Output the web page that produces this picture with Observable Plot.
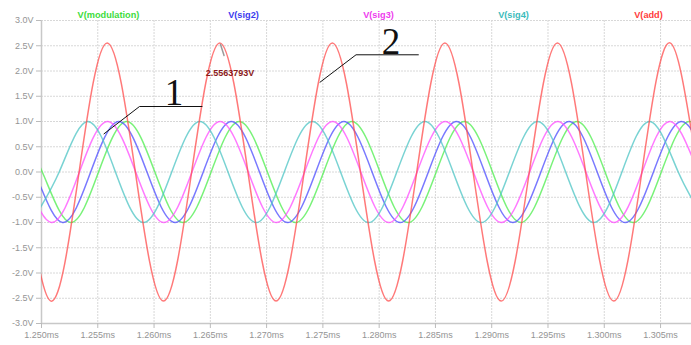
<!DOCTYPE html>
<html><head><meta charset="utf-8">
<script src="https://cdn.jsdelivr.net/npm/d3@7"></script>
<script src="https://cdn.jsdelivr.net/npm/@observablehq/plot@0.6"></script>
<style>
html,body{margin:0;padding:0;background:#fff;overflow:hidden;}
#wrap{position:relative;width:691px;height:345px;}
#legend{position:absolute;left:41px;top:9px;display:grid;grid-template-columns:repeat(5,135px);font:bold 9.2px "Liberation Sans",Arial,sans-serif;line-height:12px;}
#legend span{text-align:center;}
</style></head><body>
<div id="wrap"><div id="chart"></div><div id="legend"></div></div>
<script>
// Series names and colours (legend order)
const seriesNames = ["V(modulation)", "V(sig2)", "V(sig3)", "V(sig4)", "V(add)"];
const legendColors = ["#3ddc3d", "#3c3cee", "#ee3cee", "#3cbcbc", "#ff3c3c"];
const lineColors = ["#4cee4c", "#4c4cff", "#ff4cff", "#4cc4c4", "#ff4c4c"];

// Values: peaks, zero crossings and troughs (time in ms, volts)
const modulationT = [1.24757,1.25007,1.25257,1.25507,1.25757,1.26007,1.26257,1.26507,1.26757,1.27007,1.27257,1.27507,1.27757,1.28007,1.28257,1.28507,1.28757,1.29007,1.29257,1.29507,1.29757,1.30007,1.30257,1.30507,1.30757,1.31007];
const modulationV = [1,0,-1,0,1,0,-1,0,1,0,-1,0,1,0,-1,0,1,0,-1,0,1,0,-1,0,1,0];

const sig2T = [1.24687,1.24937,1.25187,1.25437,1.25687,1.25937,1.26187,1.26437,1.26687,1.26937,1.27187,1.27437,1.27687,1.27937,1.28187,1.28437,1.28687,1.28937,1.29187,1.29437,1.29687,1.29937,1.30187,1.30437,1.30687,1.30937];
const sig2V = [1,0,-1,0,1,0,-1,0,1,0,-1,0,1,0,-1,0,1,0,-1,0,1,0,-1,0,1,0];

const sig3T = [1.24587,1.24837,1.25087,1.25337,1.25587,1.25837,1.26087,1.26337,1.26587,1.26837,1.27087,1.27337,1.27587,1.27837,1.28087,1.28337,1.28587,1.28837,1.29087,1.29337,1.29587,1.29837,1.30087,1.30337,1.30587,1.30837,1.31087];
const sig3V = [1,0,-1,0,1,0,-1,0,1,0,-1,0,1,0,-1,0,1,0,-1,0,1,0,-1,0,1,0,-1];

const sig4T = [1.24907,1.25157,1.25407,1.25657,1.25907,1.26157,1.26407,1.26657,1.26907,1.27157,1.27407,1.27657,1.27907,1.28157,1.28407,1.28657,1.28907,1.29157,1.29407,1.29657,1.29907,1.30157,1.30407,1.30657,1.30907];
const sig4V = [-1,0,1,0,-1,0,1,0,-1,0,1,0,-1,0,1,0,-1,0,1,0,-1,0,1,0,-1];

const addT = [1.24584,1.24834,1.25084,1.25334,1.25584,1.25834,1.26084,1.26334,1.26584,1.26834,1.27084,1.27334,1.27584,1.27834,1.28084,1.28334,1.28584,1.28834,1.29084,1.29334,1.29584,1.29834,1.30084,1.30334,1.30584,1.30834,1.31084];
const addV = [2.5564,0,-2.5564,0,2.5564,0,-2.5564,0,2.5564,0,-2.5564,0,2.5564,0,-2.5564,0,2.5564,0,-2.5564,0,2.5564,0,-2.5564,0,2.5564,0,-2.5564];

// Axis ticks
const xTicks = [1.250,1.255,1.260,1.265,1.270,1.275,1.280,1.285,1.290,1.295,1.300,1.305];
const yTicks = [-3,-2.5,-2,-1.5,-1,-0.5,0,0.5,1,1.5,2,2.5,3];

// Annotations (data coordinates)
const cursorLabel = "2.5563793V";
const cursorLabelPos = [{t: 1.26675, v: 1.96}];
const cursorMark = [{t: 1.265906, v: 2.525}, {t: 1.266217, v: 2.307}];
const leader1 = [{t: 1.255554, v: 0.756}, {t: 1.258708, v: 1.297}, {t: 1.264262, v: 1.297}];
const label1 = [{t: 1.261774, v: 1.317, s: "1"}];
const leader2 = [{t: 1.274747, v: 1.778}, {t: 1.277946, v: 2.321}, {t: 1.283482, v: 2.321}];
const label2 = [{t: 1.281056, v: 2.345, s: "2"}];

const seriesT = [modulationT, sig2T, sig3T, sig4T, addT];
const seriesV = [modulationV, sig2V, sig3V, sig4V, addV];
const tables = seriesT.map((T, i) => T.map((t, j) => ({t, v: seriesV[i][j]})));

const legend = document.getElementById("legend");
seriesNames.forEach((n, i) => {
  const s = document.createElement("span");
  s.textContent = n; s.style.color = legendColors[i];
  legend.appendChild(s);
});

const chart = Plot.plot({
  width: 691, height: 345,
  marginLeft: 41, marginRight: 0, marginTop: 20, marginBottom: 22,
  style: {background: "white", fontFamily: "'Liberation Sans', Arial, sans-serif"},
  x: {domain: [1.25, 1.30775]},
  y: {domain: [-3, 3]},
  marks: [
    Plot.gridX(xTicks, {stroke: "#d8d8d8", strokeOpacity: 1, strokeDasharray: "2,1"}),
    Plot.gridY(yTicks, {stroke: "#d8d8d8", strokeOpacity: 1, strokeDasharray: "2,1"}),
    Plot.ruleX([1.25], {stroke: "#c8c8c8", strokeWidth: 1.5}),
    Plot.ruleY([-3], {stroke: "#c8c8c8", strokeWidth: 1.5}),
    Plot.axisX(xTicks, {tickSize: 5, tickPadding: 3, stroke: "#bbb", fill: "#949494", fontSize: 9,
      tickFormat: d => d.toFixed(3) + "ms", label: null}),
    Plot.axisY(yTicks, {tickSize: 5, tickPadding: 3, stroke: "#bbb", fill: "#949494", fontSize: 9,
      tickFormat: d => d.toFixed(1) + "V", label: null}),
    ...tables.map((tab, i) => Plot.line(tab, {x: "t", y: "v", curve: "natural", clip: true,
      stroke: lineColors[i], strokeWidth: 1.5, strokeOpacity: 0.75})),
    Plot.line(cursorMark, {x: "t", y: "v", stroke: "#9a9a9a", strokeWidth: 1.5}),
    Plot.text(cursorLabelPos, {x: "t", y: "v", text: () => cursorLabel, fill: "#8b1a1a",
      fontWeight: "bold", fontSize: 9, lineAnchor: "middle"}),
    Plot.line(leader1, {x: "t", y: "v", stroke: "#111", strokeWidth: 1}),
    Plot.line(leader2, {x: "t", y: "v", stroke: "#111", strokeWidth: 1}),
    Plot.text(label1, {x: "t", y: "v", text: "s", fontSize: 37, fill: "#111",
      fontFamily: "'Liberation Serif', 'Times New Roman', serif", lineAnchor: "bottom"}),
    Plot.text(label2, {x: "t", y: "v", text: "s", fontSize: 37, fill: "#111",
      fontFamily: "'Liberation Serif', 'Times New Roman', serif", lineAnchor: "bottom"})
  ]
});
document.getElementById("chart").appendChild(chart);
</script>
</body></html>
